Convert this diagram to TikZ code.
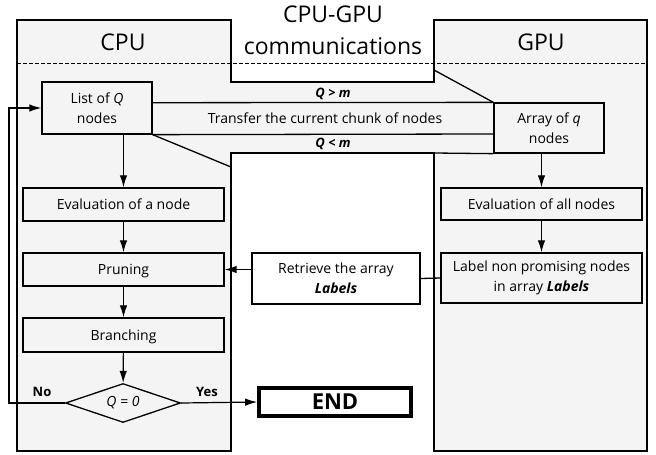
\documentclass[tikz,border=0pt]{standalone}
\usepackage{fontspec}
\setmainfont{Open Sans}
\usetikzlibrary{arrows.meta,shapes.geometric}
\definecolor{panelgray}{HTML}{F4F4F4}
\newcommand{\boxfont}{\fontsize{14}{20}\selectfont}
\newcommand{\titlefont}{\fontsize{23}{27}\selectfont}
\newcommand{\lblfont}{\fontsize{13}{15}\selectfont\bfseries}
\begin{document}
\begin{tikzpicture}[x=1pt,y=-1pt,
  panel/.style={fill=panelgray, draw=black, line width=1.8pt, line join=miter},
  box/.style={draw=black, line width=1.3pt, fill=panelgray, inner sep=0pt, align=center, font=\boxfont},
  onel/.style={text height=10pt, text depth=0pt},
  wbox/.style={box, fill=white},
  arr/.style={line width=1.2pt, -{Latex[length=12pt,width=7.5pt]}},
  ln/.style={line width=1.3pt},
  ttl/.style={font=\titlefont, anchor=base, inner sep=0pt},
  lbl/.style={font=\lblfont, inner sep=0pt}]
\useasboundingbox (0,0) rectangle (656,455);
% panels merged with the communication band
\path[panel] (17,20) -- (231,20) -- (231,82) -- (434,82) -- (434,20) -- (647,20)
  -- (647,451) -- (434,451) -- (434,153) -- (231,153) -- (231,451) -- (17,451) -- cycle;
\draw[line width=1pt, dash pattern=on 4pt off 2pt] (17,63) -- (647,63);
% titles
\node[ttl] (cpu) at (123,50) {CPU};
\node[ttl] (gpu) at (541,50) {GPU};
\node[ttl] (comm1) at (333,22) {CPU-GPU};
\node[ttl] (comm2) at (333,54) {communications};
% boxes
\node[box, minimum width=110pt, minimum height=52pt] (list) at (97,108) {List of \textit{Q}\\nodes};
\node[box, minimum width=110pt, minimum height=50pt] (array) at (549,128) {Array of \textit{q}\\nodes};
\node[box, onel, minimum width=201pt, minimum height=33pt] (eval) at (123.5,204.5) {Evaluation of a node};
\node[box, onel, minimum width=201pt, minimum height=33pt] (prune) at (123.5,269.5) {Pruning};
\node[box, onel, minimum width=201pt, minimum height=34pt] (branch) at (123.5,335) {Branching};
\node[draw, diamond, aspect=2.95, minimum width=115pt, minimum height=39pt, inner sep=0pt,
  fill=panelgray, line width=1.3pt, font=\boxfont] (dia) at (123,403) {\textit{Q = 0}};
\node[wbox, line width=3.6pt, minimum width=152pt, minimum height=28pt,
  font=\fontsize{22}{26}\selectfont\bfseries] (end) at (335,402) {END};
\node[box, onel, minimum width=201pt, minimum height=32pt] (evall) at (541.5,204) {Evaluation of all nodes};
\node[box, minimum width=201pt, minimum height=50pt] (label) at (541.5,278) {Label non promising nodes\\in array \textbf{\textit{Labels}}};
\node[wbox, minimum width=168pt, minimum height=51pt] (retr) at (336,278.5) {Retrieve the array\\\textbf{\textit{Labels}}};
% communication band lines
\draw[ln] (list.north east |- 0,102.7) -- (array.north west);
\draw[ln] (list.south east) -- (array.west |- 0,134);
\draw[ln] (434,153) -- (array.south west);
\draw[ln] (list.south east) -- (231,167);
\draw[ln] (434,70) -- (array.north west);
\node[lbl, font=\lblfont\itshape] (gt) at (333,94) {Q > m};
\node[lbl, font=\lblfont\itshape] (lt) at (333,143.5) {Q < m};
\node[font=\boxfont, inner sep=0pt] (transfer) at (325,118.5) {Transfer the current chunk of nodes};
% arrows
\draw[arr] (eval.north |- list.south) -- (eval.north);
\draw[arr] (eval) -- (prune);
\draw[arr] (prune) -- (branch);
\draw[arr] (branch) -- (dia);
\draw[arr] (evall.north |- array.south) -- (evall.north);
\draw[arr] (evall) -- (label);
\draw[ln] (label.west) -- (retr.east);
\draw[arr] (retr.west |- prune.east) -- (prune.east);
\draw[arr] (dia.east) -- (end.west);
\coordinate (loopb) at (9,403);
\draw[arr] (dia.west) -- (loopb) |- (list.west);
\node[lbl] (no) at (42,392) {No};
\node[lbl] (yes) at (207,392) {Yes};
\end{tikzpicture}
\end{document}
